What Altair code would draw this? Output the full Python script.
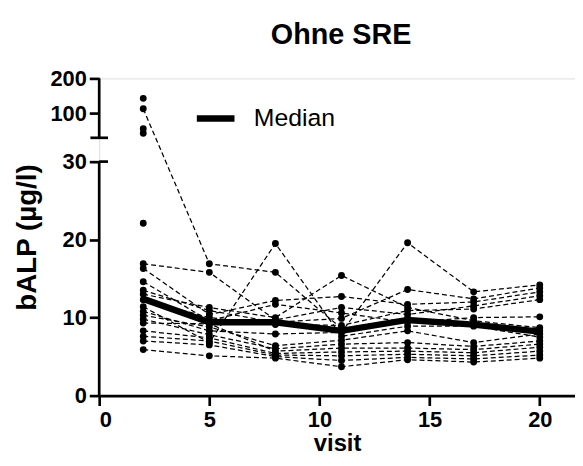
import altair as alt
import pandas as pd

# ---- data ----
visits = [2, 5, 8, 11, 14, 17, 20]
v2 = [113, 16.9, 16.3, 14.6, 13.5, 13.0, 12.3, 11.4, 10.8, 10.3, 9.8, 9.3, 8.3, 7.6, 7.0, 5.9]
v5 = [16.9, 15.8, 10.4, 9.6, 10.9, 11.3, 10.0, 6.8, 8.3, 8.8, 7.8, 9.2, 7.4, 7.0, 6.5, 5.1]
v8 = [15.8, 9.7, 12.2, 11.7, 9.4, 10.0, 9.1, 19.5, 7.9, 6.4, 6.0, 5.7, 5.4, 5.2, 5.0, 4.8]
v11 = [8.6, 11.3, 12.7, 10.6, 9.9, 15.4, 9.0, 7.6, 8.1, 7.1, 6.6, 6.1, 5.6, 5.1, 4.5, 3.7]
v14 = [9.9, 10.4, 11.7, 9.4, 13.6, 11.3, 10.9, 8.9, 19.6, 8.3, 6.8, 6.1, 5.7, 5.3, 4.9, 4.6]
v17 = [9.0, 11.5, 12.0, 10.0, 12.4, 9.6, 11.1, 8.9, 13.3, 6.8, 6.3, 5.9, 5.5, 5.1, 4.7, 4.3]
v20 = [8.3, 12.8, 13.3, 10.1, 13.8, 8.7, 12.3, 7.5, 14.2, 7.9, 7.0, 6.6, 6.2, 5.7, 5.2, 4.8]
single_v2 = [143, 56, 43, 22.1]
median = [12.4, 9.4, 9.4, 8.3, 9.7, 9.1, 8.2]
y_ticks = [0, 10, 20, 30, 100, 200]
x_ticks = [0, 5, 10, 15, 20]

# ---- broken-axis mapping ----
BREAK = 30.0
TOP_BASE = 33.05
K = 0.0448
TOP = TOP_BASE + (200 - BREAK) * K


def disp(v):
    return v if v <= BREAK else TOP_BASE + (v - BREAK) * K


expr_d = f"datum.v <= {BREAK} ? datum.v : {TOP_BASE} + (datum.v - {BREAK}) * {K}"

cols = [v2, v5, v8, v11, v14, v17, v20]
rows = []
for s in range(len(v2)):
    for vi, col in zip(visits, cols):
        rows.append({"subject": s, "visit": vi, "v": col[s]})
for j, val in enumerate(single_v2):
    rows.append({"subject": 100 + j, "visit": 2, "v": val})
subj = pd.DataFrame(rows)
med = pd.DataFrame({"visit": visits, "v": median, "series": ["Median"] * len(visits)})

FONT = "Liberation Sans"
XMAX = 21.6

xscale = alt.Scale(domain=[0, XMAX], nice=False, zero=True)
yscale = alt.Scale(domain=[0, TOP], nice=False)

xaxis = alt.Axis(values=x_ticks, title="visit", grid=False, domainWidth=2.7, domainColor="black",
                 tickWidth=2.7, tickSize=10, tickColor="black", labelFont=FONT, labelFontSize=22,
                 labelFontWeight="bold", labelColor="black", labelPadding=4, titleFont=FONT,
                 titleFontSize=24, titleFontWeight="bold", titleColor="black", titlePadding=1)
yaxis = alt.Axis(values=[disp(t) for t in y_ticks],
                 labelExpr=f"datum.value > {BREAK + 1} ? format(round({BREAK} + (datum.value - {TOP_BASE}) / {K}), 'd') : format(datum.value, 'd')",
                 title="bALP (µg/l)", grid=False, domain=False, tickWidth=2.7, tickSize=10,
                 tickColor="black", labelFont=FONT, labelFontSize=22, labelFontWeight="bold",
                 labelColor="black", labelPadding=3, titleFont=FONT, titleFontSize=28,
                 titleFontWeight="bold", titleColor="black", titlePadding=9)

base_x = alt.X("visit:Q", scale=xscale, axis=xaxis)
base_y = alt.Y("d:Q", scale=yscale, axis=yaxis)

lines = alt.Chart(subj).transform_calculate(d=expr_d).mark_line(
    color="black", strokeWidth=1.25, strokeDash=[5, 3]
).encode(x=base_x, y=base_y, detail="subject:N", order="visit:Q")

points = alt.Chart(subj).transform_calculate(d=expr_d).mark_circle(
    color="black", size=48, opacity=1
).encode(x="visit:Q", y="d:Q")

med_line = alt.Chart(med).transform_calculate(d=expr_d).mark_line(strokeWidth=6.5).encode(
    x="visit:Q", y="d:Q",
    color=alt.Color("series:N", scale=alt.Scale(domain=["Median"], range=["black"]),
                    legend=alt.Legend(title=None, orient="none", legendX=95, legendY=18,
                                      symbolType="stroke", symbolStrokeWidth=6.5, symbolSize=1444,
                                      symbolStrokeColor="black", labelFont=FONT, labelFontSize=25,
                                      labelColor="black", labelOffset=16, padding=0)),
)

# y-axis line drawn in two pieces (broken axis)
seg = pd.DataFrame({"x": [0, 0], "y": [0, TOP_BASE], "y2": [BREAK, TOP]})
axis_segs = alt.Chart(seg).mark_rule(color="black", strokeWidth=2.7).encode(
    x="x:Q", y="y:Q", y2="y2:Q")
caps = pd.DataFrame({"x": [-0.4, 0], "x2": [0.4, 0.4], "y": [TOP_BASE, BREAK]})
axis_caps = alt.Chart(caps).mark_rule(color="black", strokeWidth=2.7).encode(
    x="x:Q", x2="x2:Q", y="y:Q")

chart = alt.layer(axis_segs, axis_caps, lines, points, med_line).properties(
    width=480, height=320,
    title=alt.TitleParams("Ohne SRE", font=FONT, fontSize=29, fontWeight="bold", color="black",
                          anchor="middle", offset=18, dx=4),
    autosize=alt.AutoSizeParams(type="none"),
    padding={"left": 92, "top": 69, "right": 0, "bottom": 70},
).configure_view(stroke=None).configure(background="white")

chart.save("out.html", embed_options={"renderer": "svg", "actions": False})
